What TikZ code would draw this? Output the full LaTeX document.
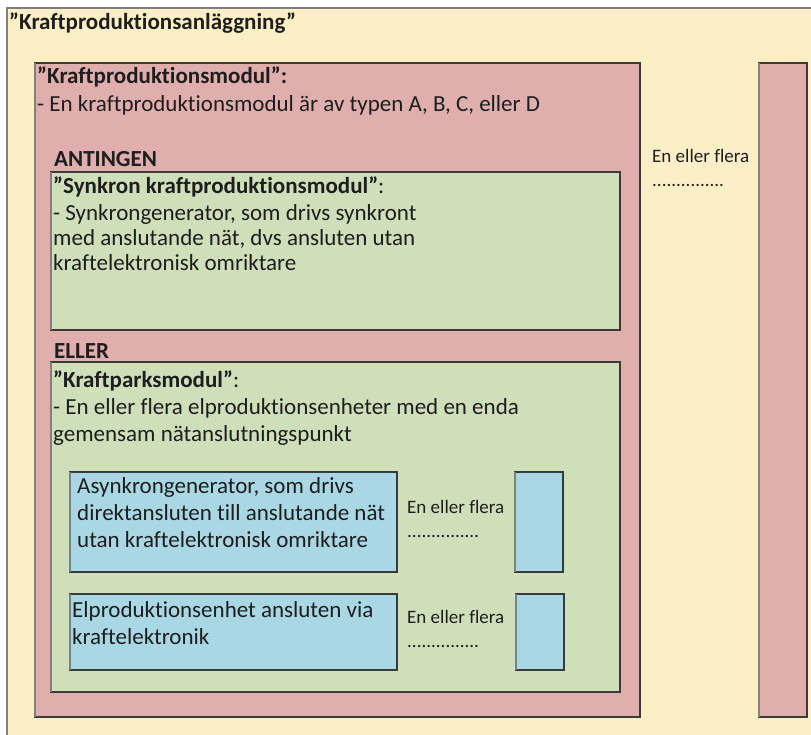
\documentclass[tikz,border=0pt]{standalone}
\usepackage{fontspec}
\setmainfont[Ligatures=NoCommon]{Carlito}
\definecolor{yel}{HTML}{FDEFC5}
\definecolor{pnk}{HTML}{E0AFAD}
\definecolor{grn}{HTML}{CFDFBA}
\definecolor{blu}{HTML}{A9D8E4}
\definecolor{edge}{HTML}{3A3A3A}
\definecolor{edgel}{HTML}{808080}
\definecolor{txt}{HTML}{1E1E1E}
\begin{document}
\begin{tikzpicture}[x=1pt,y=-1pt,
  box/.style={draw=edge,line width=1.1pt,anchor=north west,inner sep=0pt,outer sep=0pt},
  lbl/.style={anchor=base west,inner sep=0pt,text=txt,font=\fontsize{23}{27}\selectfont},
  bld/.style={lbl,font=\fontsize{23}{27}\selectfont\bfseries},
  sml/.style={anchor=base west,inner sep=0pt,text=txt,font=\fontsize{19}{24}\selectfont}]
\useasboundingbox (0,0) rectangle (811,735);
\clip (0,0) rectangle (811,735);
% outer
\node[box,fill=yel,draw=edgel,minimum width=830pt,minimum height=760pt] (plant) at (7,8) {};
% main module boxes
\node[box,fill=pnk,minimum width=605pt,minimum height=654pt] (mod) at (35,63) {};
\node[box,fill=pnk,minimum width=48pt,minimum height=654pt] (mod2) at (759,63) {};
\node[box,fill=grn,minimum width=569pt,minimum height=158pt] (sync) at (51,172) {};
\node[box,fill=grn,minimum width=569pt,minimum height=330pt] (park) at (51,362) {};
\node[box,fill=blu,minimum width=327pt,minimum height=100pt] (asyn) at (70,472) {};
\node[box,fill=blu,minimum width=327pt,minimum height=76pt] (elp) at (70,594) {};
\node[box,fill=blu,minimum width=48pt,minimum height=100pt] (asyn2) at (515,472) {};
\node[box,fill=blu,minimum width=48pt,minimum height=76pt] (elp2) at (516,594) {};
% lighter left edges
\foreach \n in {mod,mod2,sync,park,asyn,elp,asyn2,elp2}
  \draw[edgel,line width=1.1pt] (\n.north west) -- (\n.south west);
% texts
\node[bld] (t0) at (9,30) {”Kraftproduktionsanläggning”};
\node[bld] (m1) at (37,84) {”Kraftproduktionsmodul”:};
\node[lbl] (m2) at (37,112) {- En kraftproduktionsmodul är av typen A, B, C, eller D};
\node[bld] (ant) at (54,167) {ANTINGEN};
\node[lbl] (s1) at (53,194) {\textbf{”Synkron kraftproduktionsmodul”}:};
\node[lbl] (s2) at (53,221) {- Synkrongenerator, som drivs synkront};
\node[lbl] (s3) at (53,246) {med anslutande nät, dvs ansluten utan};
\node[lbl] (s4) at (53,271) {kraftelektronisk omriktare};
\node[bld] (ell) at (54,358) {ELLER};
\node[lbl] (p1) at (53,387) {\textbf{”Kraftparksmodul”}:};
\node[lbl] (p2) at (53,414) {- En eller flera elproduktionsenheter med en enda};
\node[lbl] (p3) at (53,441) {gemensam nätanslutningspunkt};
\node[lbl] (a1) at (77,493) {Asynkrongenerator, som drivs};
\node[lbl] (a2) at (77,520) {direktansluten till anslutande nät};
\node[lbl] (a3) at (77,547) {utan kraftelektronisk omriktare};
\node[lbl] (e1) at (72,617) {Elproduktionsenhet ansluten via};
\node[lbl] (e2) at (72,644) {kraftelektronik};
\node[sml] (n1) at (407,513) {En eller flera};
\node[sml] (d1) at (407,537) {...............};
\node[sml] (n2) at (407,623) {En eller flera};
\node[sml] (d2) at (407,647) {...............};
\node[sml] (n3) at (652,163) {En eller flera};
\node[sml] (d3) at (652,187) {...............};
\end{tikzpicture}
\end{document}
